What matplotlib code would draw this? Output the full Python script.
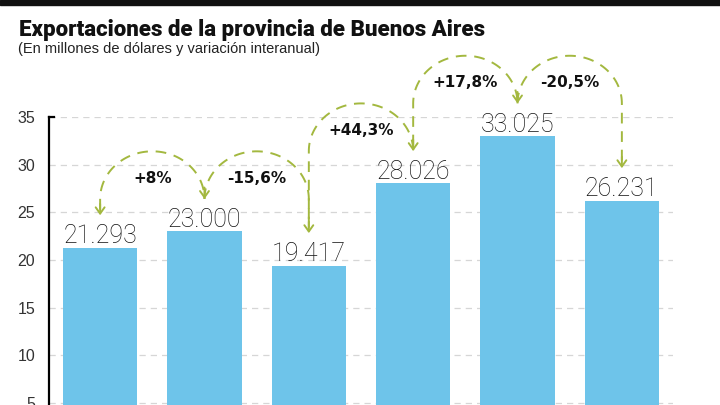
import matplotlib
matplotlib.use("Agg")
import matplotlib.pyplot as plt
from matplotlib.patches import Rectangle
import numpy as np

# ---- data ----
years_idx = [0, 1, 2, 3, 4, 5]
values = [21.293, 23.000, 19.417, 28.026, 33.025, 26.231]
value_labels = ["21.293", "23.000", "19.417", "28.026", "33.025", "26.231"]
change_labels = ["+8%", "-15,6%", "+44,3%", "+17,8%", "-20,5%"]
yticks = [5, 10, 15, 20, 25, 30, 35]

BAR = "#6EC4EA"
GREEN = "#A3B83F"
TXT = "#111111"

fig = plt.figure(figsize=(7.2, 4.05), dpi=100)
fig.patches.append(Rectangle((0, 1 - 5 / 405), 1, 5 / 405, transform=fig.transFigure,
                             color="#111111", zorder=10))

fig.text(19 / 720, 1 - 36 / 405, "Exportaciones de la provincia de Buenos Aires",
         fontsize=16, fontweight="heavy", color="#111111", va="baseline",
         family=["Roboto", "DejaVu Sans"])
fig.text(18 / 720, 1 - 53 / 405, "(En millones de dólares y variación interanual)",
         fontsize=10.5, color="#222222", va="baseline",
         family=["Liberation Sans", "DejaVu Sans"])

ax = fig.add_axes([49 / 720, 0, (673 - 49) / 720, 1 - 117 / 405])
ax.set_xlim(-0.49, 5.49)
ax.set_ylim(4.79, 35)

ax.bar(years_idx, values, width=0.71, color=BAR, zorder=2)

for s in ["top", "right", "bottom"]:
    ax.spines[s].set_visible(False)
ax.spines["left"].set_color("black")
ax.spines["left"].set_linewidth(1.6)
ax.spines["left"].set_zorder(5)

ax.set_yticks(yticks)
ax.set_yticklabels([str(t) for t in yticks], fontsize=11.5, color="#333333",
                   family=["Liberation Sans", "DejaVu Sans"])
ax.tick_params(axis="y", length=0, pad=10)
ax.set_xticks([])
ax.yaxis.grid(True, color="#d6d6d6", linestyle=(0, (5, 4)), linewidth=0.9, zorder=0)
ax.set_axisbelow(True)
ax.plot([-0.49, -0.445], [35, 35], color="black", lw=1.6, clip_on=False, zorder=5)

# value labels
for x, v, lab in zip(years_idx, values, value_labels):
    ax.annotate(lab, (x, v), xytext=(0, -0.5), textcoords="offset points",
                ha="center", va="bottom", fontsize=18, color=TXT,
                fontweight="light", family=["Roboto", "DejaVu Sans"], zorder=6)

tips = [v + 3.4 for v in values]

def arc_path(x0, y0, x1, y1, top, r=5.0):
    xm = (x0 + x1) / 2
    a = (x1 - x0) / 2
    pts = []
    yl = top - r
    if y0 < yl:
        pts.append((x0, y0))
        pts.append((x0, yl))
    for t in np.linspace(np.pi, 0, 80):
        pts.append((xm + a * np.cos(t), yl + r * np.sin(t)))
    if y1 < yl:
        pts.append((x1, y1))
    return np.array(pts)

for i in range(len(values) - 1):
    x0, x1 = years_idx[i], years_idx[i + 1]
    y0, y1 = tips[i] + 0.6, tips[i + 1] + 0.6
    top = max(tips[i], tips[i + 1]) + 5
    p = arc_path(x0, y0, x1, y1, top)
    ax.plot(p[:, 0], p[:, 1], color=GREEN, lw=1.4, linestyle=(0, (5.5, 4)),
            clip_on=False, zorder=4)
    ax.text((x0 + x1) / 2, top - 2.8, change_labels[i], ha="center", va="center",
            fontsize=11, fontweight="bold", color="#111111",
            family=["DejaVu Sans"], clip_on=False)

for x, t in zip(years_idx, tips):
    ax.annotate("", xy=(x, t), xytext=(x, t + 1.2),
                arrowprops=dict(arrowstyle="->,head_length=0.45,head_width=0.32",
                                color=GREEN, lw=1.4, shrinkA=0, shrinkB=0),
                annotation_clip=False, zorder=4)

fig.savefig("out.png", dpi=100)
